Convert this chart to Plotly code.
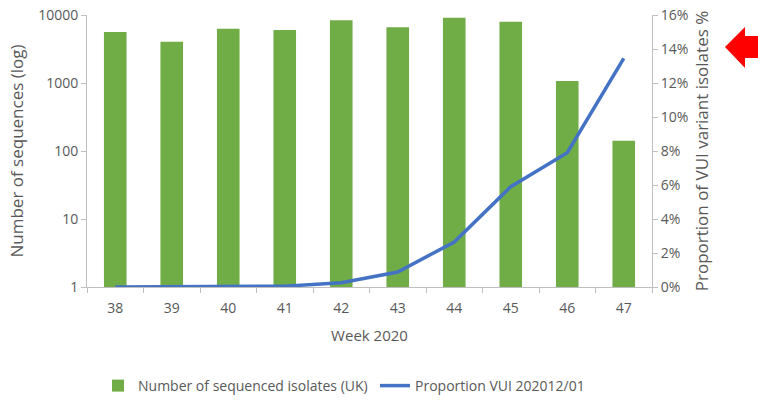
import plotly.graph_objects as go

weeks = ["38", "39", "40", "41", "42", "43", "44", "45", "46", "47"]
sequenced = [5600, 4050, 6300, 6000, 8350, 6600, 9100, 7950, 1070, 141]
proportion = [0.0, 0.0, 0.0, 0.0005, 0.0025, 0.0088, 0.0265, 0.059, 0.079, 0.1345]
left_ticks = [1, 10, 100, 1000, 10000]
left_ticktext = ["1", "10", "100", "1000", "10000"]

W, H = 758, 405
L, R, T, B = 87, 652, 15, 287

def px(x):
    return (x - L) / (R - L)

def py(y):
    return (B - y) / (B - T)

grey = "#595959"
axis_col = "#BFBFBF"
font = "Open Sans"

fig = go.Figure()
fig.add_trace(go.Bar(
    x=weeks, y=sequenced, name="Number of sequenced isolates (UK)",
    marker=dict(color="#70AD47", line=dict(width=0)), yaxis="y",
))
fig.add_trace(go.Scatter(
    x=weeks, y=proportion, name="Proportion VUI 202012/01",
    mode="lines", line=dict(color="#4472C4", width=3.5), yaxis="y2",
))

arrow = [(725, 47), (745, 27), (745, 36), (760, 36), (760, 58), (745, 58), (745, 68)]
path = "M " + " L ".join(f"{px(a):.4f},{py(b):.4f}" for a, b in arrow) + " Z"

fig.update_layout(
    width=W, height=H,
    margin=dict(l=L, r=W - R, t=T, b=H - B, autoexpand=False),
    paper_bgcolor="white", plot_bgcolor="white",
    font=dict(family=font, color=grey, size=14),
    bargap=0.6,
    showlegend=True,
    legend=dict(orientation="h", x=px(98), y=py(386), yanchor="middle", xanchor="left",
                font=dict(size=14, color=grey), entrywidth=232, entrywidthmode="pixels",
                itemwidth=30),
    xaxis=dict(type="category", showline=True, linecolor=axis_col, ticks="outside",
               tickson="boundaries", ticklen=5, tickcolor=axis_col, showgrid=False,
               automargin=False, ticklabelstandoff=8,
               title=dict(text="Week 2020", font=dict(size=15, color=grey), standoff=14),
               tickfont=dict(size=14, color=grey)),
    yaxis=dict(type="log", range=[0, 4], tickvals=left_ticks, ticktext=left_ticktext,
               showline=True, linecolor=axis_col, ticks="outside", ticklen=5,
               tickcolor=axis_col, showgrid=False, zeroline=False, automargin=False,
               title=dict(text="Number of sequences (log)", font=dict(size=17, color=grey), standoff=10),
               tickfont=dict(size=14, color=grey)),
    yaxis2=dict(overlaying="y", side="right", range=[0, 0.16], dtick=0.02, tickformat=".0%",
                showline=True, linecolor=axis_col, ticks="outside", ticklen=5,
                tickcolor=axis_col, showgrid=False, zeroline=False, automargin=False,
                title=dict(text="Proportion of VUI variant isolates %", font=dict(size=17, color=grey), standoff=8),
                tickfont=dict(size=14, color=grey)),
    shapes=[dict(type="path", xref="paper", yref="paper", path=path,
                 fillcolor="#FF0000", line=dict(width=0), layer="above")],
)

fig.write_html("out.html", config={"displayModeBar": False},
               post_script="document.body.style.margin='0px';document.body.style.overflow='hidden';")
